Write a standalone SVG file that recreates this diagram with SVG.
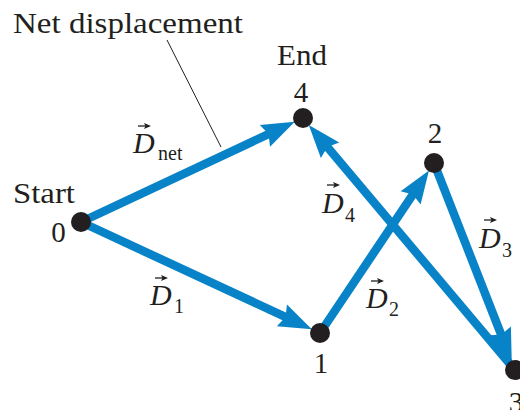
<svg xmlns="http://www.w3.org/2000/svg" width="520" height="410" viewBox="0 0 520 410">
<defs>
<marker id="ah" markerUnits="userSpaceOnUse" markerWidth="60" markerHeight="40" viewBox="-20 -20 60 40" refX="0" refY="0" orient="auto" overflow="visible">
<path d="M21,0 L-12,-12 L-8,0 L-12,12 Z" fill="#0883c8"/>
</marker>
<marker id="va" markerUnits="userSpaceOnUse" markerWidth="10" markerHeight="10" viewBox="-6 -5 10 10" refX="0" refY="0" orient="auto" overflow="visible">
<path d="M2,0 L-5,-3 L-3.5,0 L-5,3 Z" fill="#231f20"/>
</marker>
</defs>
<style>
text{font-family:'Liberation Serif','Times New Roman',Times,serif;fill:#231f20}
.t{font-size:29px}
.v{font-size:30px;font-style:italic}
.s{font-size:20px}
.c{fill:none;stroke:#0883c8;stroke-width:8.5;stroke-linecap:butt;marker-end:url(#ah)}
.dot{fill:#231f20}
.vec{stroke:#231f20;stroke-width:1.3;fill:none;marker-end:url(#va)}
</style>
<rect width="520" height="410" fill="#ffffff"/>
<g id="connectors">
<path id="dnet" class="c" d="M81,222 L275.8,130.7"/>
<path id="d1" class="c" d="M81,222 L292.8,320.4"/>
<path id="d2" class="c" d="M320,333 L417.3,187.9"/>
<path id="d3" class="c" d="M434,163 L504.1,342.1"/>
<path id="d4" class="c" d="M515,370 L322.3,141"/>
</g>
<g id="connector-labels" font-family="Liberation Serif, serif">
<g id="label-dnet">
<text class="v" x="133" y="153">D</text>
<text class="s" x="158" y="160">net</text>
<path class="vec" d="M138,126 L149,126"/>
</g>
<g id="label-d1">
<text class="v" x="150" y="305">D</text>
<text class="s" x="174" y="313">1</text>
<path class="vec" d="M155,278 L166,278"/>
</g>
<g id="label-d2">
<text class="v" x="366" y="308">D</text>
<text class="s" x="389" y="316">2</text>
<path class="vec" d="M371,281 L382,281"/>
</g>
<g id="label-d3">
<text class="v" x="479" y="248">D</text>
<text class="s" x="502" y="257">3</text>
<path class="vec" d="M484,220 L495,220"/>
</g>
<g id="label-d4">
<text class="v" x="322" y="213">D</text>
<text class="s" x="345" y="222">4</text>
<path class="vec" d="M327,185 L338,185"/>
</g>
</g>
<g id="annotation">
<text class="t" x="13" y="33" textLength="230" lengthAdjust="spacingAndGlyphs">Net displacement</text>
<line x1="167" y1="40" x2="221" y2="147" stroke="#231f20" stroke-width="1"/>
</g>
<g id="node-0">
<circle class="dot" cx="81" cy="222" r="10"/>
<text class="t" x="13" y="203" textLength="62" lengthAdjust="spacingAndGlyphs">Start</text>
<text class="t" x="58.5" y="242" text-anchor="middle">0</text>
</g>
<g id="node-1">
<circle class="dot" cx="320" cy="333" r="10"/>
<text class="t" x="321" y="373" text-anchor="middle">1</text>
</g>
<g id="node-2">
<circle class="dot" cx="434" cy="163" r="10"/>
<text class="t" x="435" y="143" text-anchor="middle">2</text>
</g>
<g id="node-3">
<circle class="dot" cx="515" cy="370" r="10"/>
<text class="t" x="516" y="412" text-anchor="middle">3</text>
</g>
<g id="node-4">
<circle class="dot" cx="303" cy="118" r="10"/>
<text class="t" x="277" y="65" textLength="50" lengthAdjust="spacingAndGlyphs">End</text>
<text class="t" x="301" y="102" text-anchor="middle">4</text>
</g>
</svg>
